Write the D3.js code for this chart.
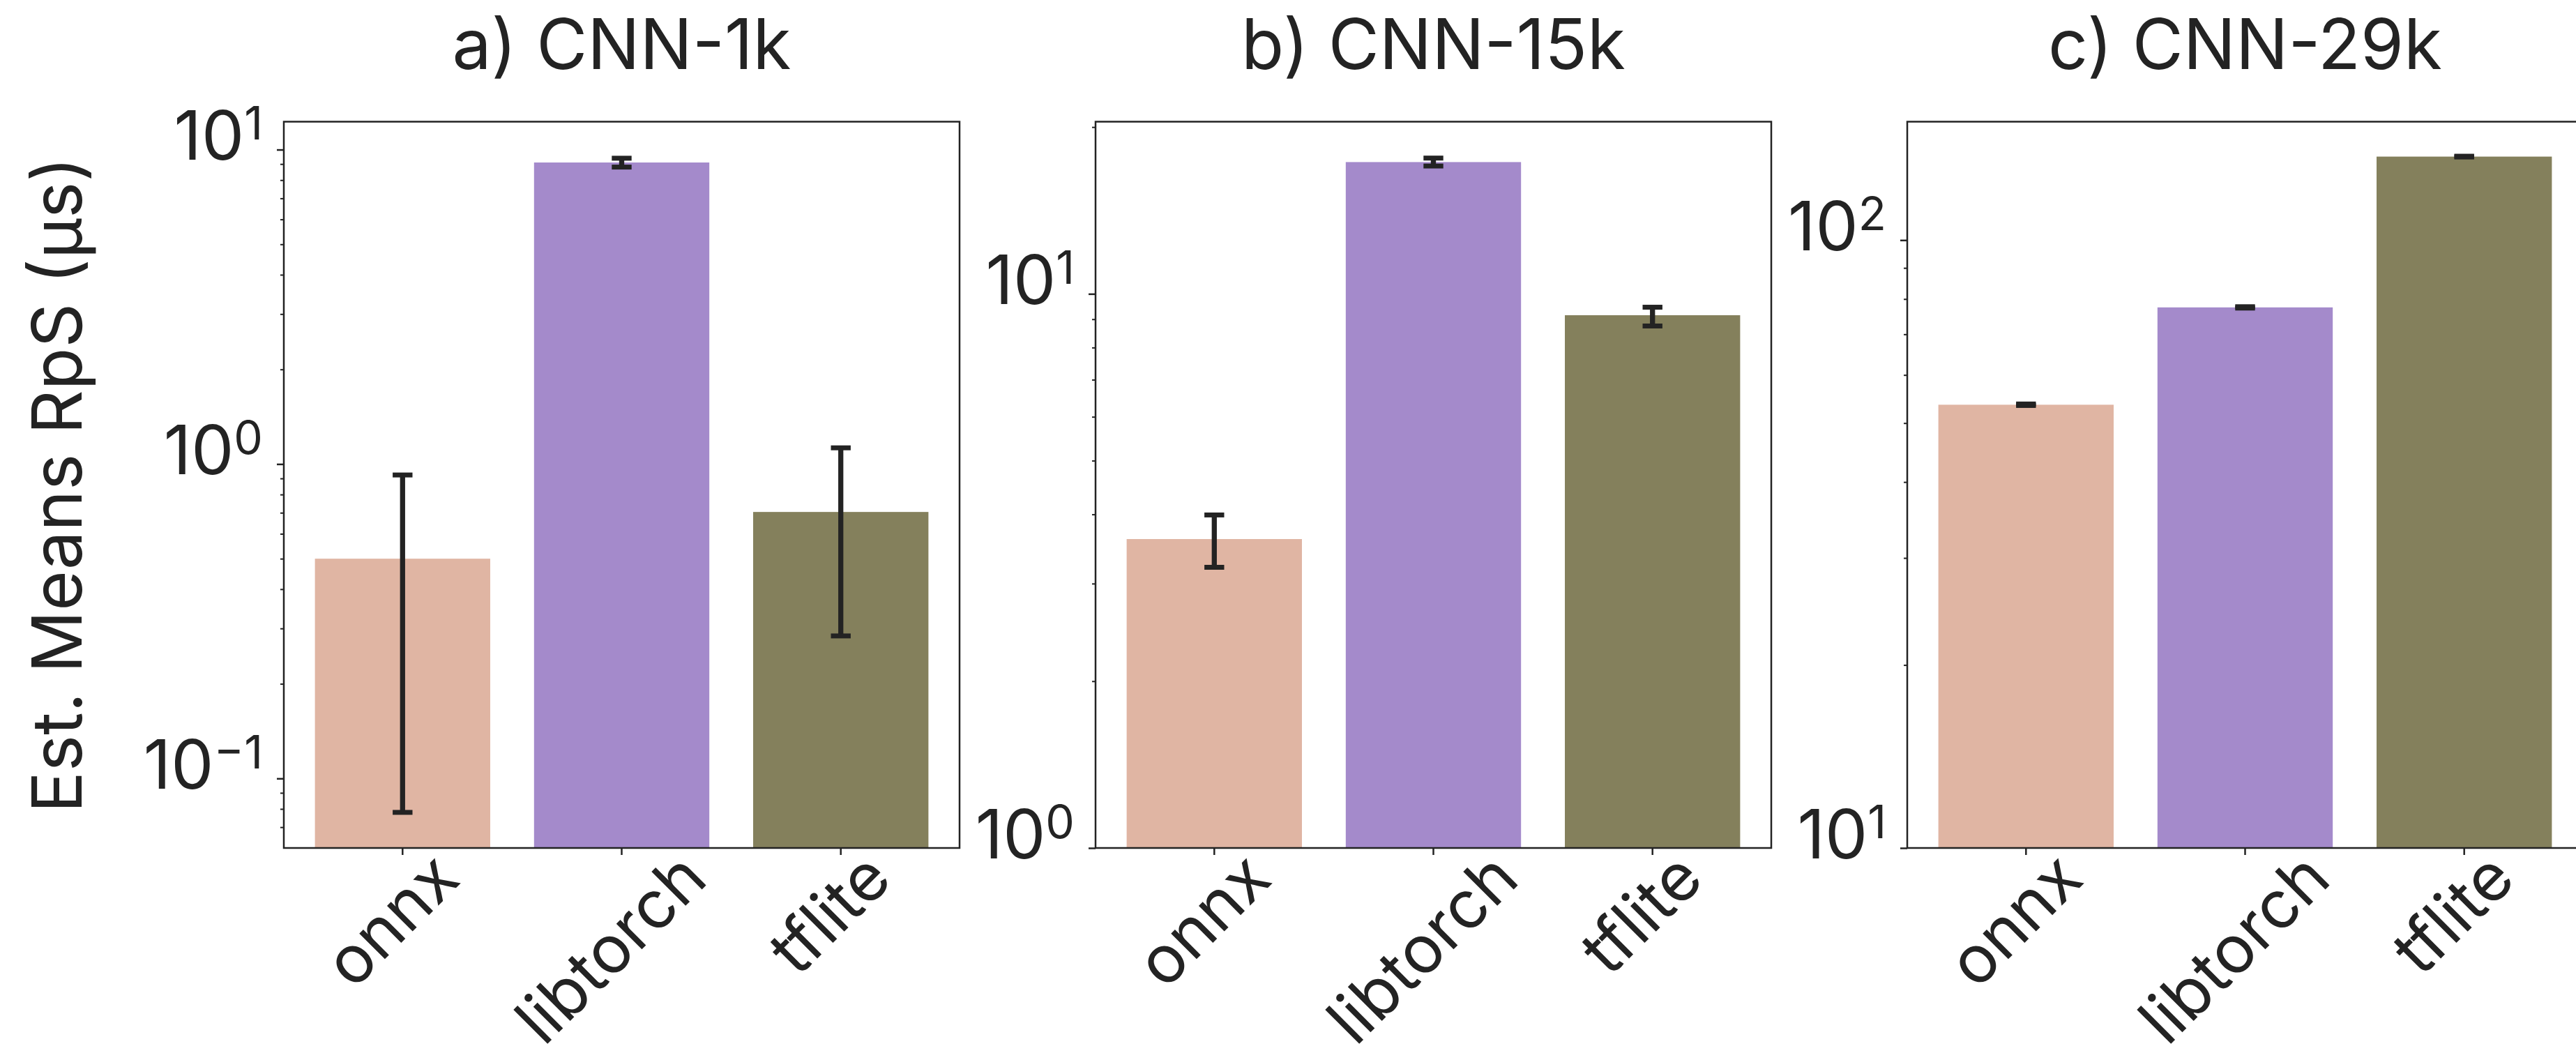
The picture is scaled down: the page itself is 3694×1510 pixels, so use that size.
<!DOCTYPE html>
<html>
<head>
<meta charset="utf-8">
<script src="https://cdn.jsdelivr.net/npm/d3@7"></script>
<style>
  body { margin: 0; background: #fff; }
  svg { display: block; }
  text { font-family: Inter, "DejaVu Sans", sans-serif; }
</style>
</head>
<body>
<svg id="chart" width="3694" height="1510"></svg>
<script>
const frameworks = ["onnx", "libtorch", "tflite"];
const panelTitles = ["a) CNN-1k", "b) CNN-15k", "c) CNN-29k"];

// est. means and error bar ends (µs)
const meansCnn1k = [0.50, 9.10, 0.704];
const lowCnn1k = [0.078, 8.80, 0.284];
const highCnn1k = [0.923, 9.39, 1.126];

const meansCnn15k = [3.61, 17.29, 9.15];
const lowCnn15k = [3.21, 17.01, 8.75];
const highCnn15k = [3.99, 17.58, 9.46];

const meansCnn29k = [53.6, 77.5, 137.2];
const lowCnn29k = [53.45, 77.3, 137.0];
const highCnn29k = [53.75, 77.7, 137.4];

const yLimits = [[0.0601, 12.27], [1, 20.45], [10, 156.6]];
const yLabel = "Est. Means RpS (\u03bcs)";

const barColors = ["#e0b5a3", "#a48acb", "#84805c"];

const panels = [
  { title: panelTitles[0], means: meansCnn1k, low: lowCnn1k, high: highCnn1k, yLim: yLimits[0] },
  { title: panelTitles[1], means: meansCnn15k, low: lowCnn15k, high: highCnn15k, yLim: yLimits[1] },
  { title: panelTitles[2], means: meansCnn29k, low: lowCnn29k, high: highCnn29k, yLim: yLimits[2] }
];

const ink = "#232323";
const titleSize = 100, tickSize = 97, catSize = 95, labelSize = 99;
const firstLeft = 407, panelStep = 1164, panelWidth = 969;
const plotTop = 174.5, plotBottom = 1216, panelHeight = plotBottom - plotTop;

const svg = d3.select("#chart");

const superscripts = v => {
  const e = Math.round(Math.log10(v));
  return { base: "10", exp: e < 0 ? "\u2212" + Math.abs(e) : String(e) };
};

const minorTicks = ([lo, hi]) => {
  const out = [];
  for (let p = Math.floor(Math.log10(lo)); p <= Math.ceil(Math.log10(hi)); p++) {
    for (let k = 2; k <= 9; k++) {
      const v = k * Math.pow(10, p);
      if (v >= lo * 0.999 && v <= hi) out.push(v);
    }
  }
  return out;
};

const majorTicks = ([lo, hi]) => {
  const out = [];
  for (let p = Math.ceil(Math.log10(lo) - 1e-9); p <= Math.floor(Math.log10(hi) + 1e-9); p++) out.push(Math.pow(10, p));
  return out;
};

panels.forEach((panel, i) => {
  const left = firstLeft + i * panelStep;
  const g = svg.append("g").attr("transform", `translate(${left},${plotTop})`);

  const x = d3.scaleBand()
    .domain(frameworks)
    .range([0, panelWidth])
    .paddingInner(0.2)
    .paddingOuter(0.142);

  const y = d3.scaleLog()
    .domain(panel.yLim)
    .range([panelHeight, 0]);

  // bars
  g.selectAll(".bar")
    .data(frameworks)
    .enter()
    .append("rect")
    .attr("class", "bar")
    .attr("x", d => x(d))
    .attr("width", x.bandwidth())
    .attr("y", (d, j) => y(panel.means[j]))
    .attr("height", (d, j) => panelHeight - y(panel.means[j]))
    .attr("fill", (d, j) => barColors[j]);

  // error bars
  const capHalf = 14.2;
  const err = g.selectAll(".err")
    .data(frameworks)
    .enter()
    .append("g")
    .attr("class", "err")
    .attr("transform", d => `translate(${x(d) + x.bandwidth() / 2},0)`);

  err.append("line")
    .attr("y1", (d, j) => y(panel.low[j]))
    .attr("y2", (d, j) => y(panel.high[j]))
    .attr("stroke", ink)
    .attr("stroke-width", 7.3);

  err.selectAll(".cap")
    .data((d, j) => [panel.low[j], panel.high[j]])
    .enter()
    .append("line")
    .attr("class", "cap")
    .attr("x1", -capHalf)
    .attr("x2", capHalf)
    .attr("y1", v => y(v))
    .attr("y2", v => y(v))
    .attr("stroke", ink)
    .attr("stroke-width", 7);

  // y axis: minor then major ticks
  g.append("g")
    .call(d3.axisLeft(y).tickValues(minorTicks(panel.yLim)).tickSize(5).tickFormat(""))
    .call(a => a.select(".domain").remove())
    .call(a => a.selectAll("line").attr("stroke", ink).attr("stroke-width", 2));

  const yAxis = g.append("g")
    .call(d3.axisLeft(y).tickValues(majorTicks(panel.yLim)).tickSize(10).tickPadding(20).tickFormat(""))
    .call(a => a.select(".domain").remove())
    .call(a => a.selectAll("line").attr("stroke", ink).attr("stroke-width", 2.5));

  yAxis.selectAll(".tick text")
    .attr("dy", 14)
    .attr("fill", ink)
    .attr("font-size", tickSize)
    .each(function (v) {
      const s = superscripts(v);
      const t = d3.select(this);
      t.append("tspan").text(s.base);
      t.append("tspan").attr("font-size", 66).attr("dy", -29).text(s.exp);
    });

  // x axis, labels rotated 45deg and centred under their tick
  const xAxis = g.append("g")
    .attr("transform", `translate(0,${panelHeight})`)
    .call(d3.axisBottom(x).tickSize(10))
    .call(a => a.select(".domain").remove())
    .call(a => a.selectAll("line").attr("stroke", ink).attr("stroke-width", 2.5));

  xAxis.selectAll(".tick text")
    .attr("fill", ink)
    .attr("font-size", catSize)
    .attr("text-anchor", "middle")
    .attr("y", 0)
    .attr("dy", "0.273em")
    .each(function () {
      const w = this.getComputedTextLength();
      d3.select(this).attr("transform", `translate(-11,${30 + w / (2 * Math.SQRT2)}) rotate(-45)`);
    });

  // frame
  g.append("rect")
    .attr("width", panelWidth)
    .attr("height", panelHeight)
    .attr("fill", "none")
    .attr("stroke", ink)
    .attr("stroke-width", 2.5);

  // title
  g.append("text")
    .attr("x", panelWidth / 2)
    .attr("y", 99 - plotTop)
    .attr("text-anchor", "middle")
    .attr("fill", ink)
    .attr("font-size", titleSize)
    .text(panel.title);
});

svg.append("text")
  .attr("transform", `translate(117,${(plotTop + plotBottom) / 2}) rotate(-90)`)
  .attr("text-anchor", "middle")
  .attr("fill", ink)
  .attr("font-size", labelSize)
  .text(yLabel);
</script>
</body>
</html>
